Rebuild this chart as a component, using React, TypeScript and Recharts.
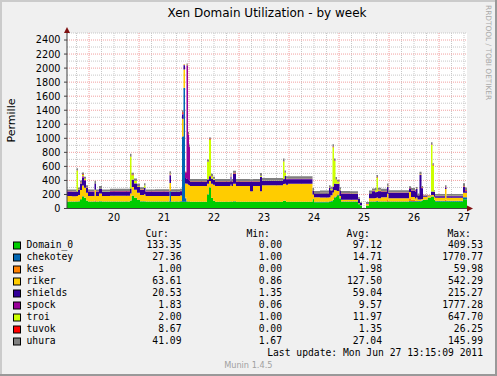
import React from "react";
import { ComposedChart, Area, XAxis, YAxis, CartesianGrid, ReferenceDot } from "recharts";

// time in days (June), sampled at the breakpoints visible in the chart
const times = [
  19.56, 19.66, 19.75, 19.78, 19.82, 19.86, 19.9, 19.94, 19.98, 20.11,
  20.14, 20.2, 20.26, 20.42, 20.82, 20.85, 20.9, 20.96, 21.02, 21.1,
  21.13, 21.32, 21.61, 21.64, 21.82, 21.86, 21.89, 21.92, 21.95, 21.98,
  22.0, 22.02, 22.36, 22.4, 22.44, 22.48, 22.52, 22.83, 22.85, 22.88,
  22.94, 23.22, 23.28, 23.42, 23.46, 23.88, 23.91, 23.94, 23.98, 24.47,
  24.5, 24.62, 24.8, 24.83, 24.87, 24.9, 24.93, 24.96, 25.01, 25.04,
  25.22, 25.38, 25.42, 25.46, 25.54, 25.6, 25.66, 25.72, 25.75, 25.78,
  25.84, 25.96, 25.99, 26.4, 26.44, 26.52, 26.54, 26.57, 26.61, 26.65,
  26.68, 26.77, 26.84, 26.87, 26.9, 26.92, 27.12, 27.15, 27.48, 27.52,
  27.56,
];

const domain0 = [
  95, 95, 95, 100, 130, 170, 150, 110, 95, 95,
  95, 100, 95, 95, 110, 180, 150, 120, 100, 100,
  95, 95, 95, 95, 95, 95, 95, 95, 95, 95,
  95, 94, 200, 300, 150, 110, 94, 100, 94, 100,
  94, 94, 94, 94, 94, 110, 110, 94, 94, 130,
  90, 90, 95, 100, 120, 150, 170, 190, 140, 94,
  94, 60, 40, 0, 40, 94, 94, 94, 100, 94,
  94, 94, 94, 100, 94, 94, 94, 100, 100, 110,
  120, 150, 165, 165, 120, 100, 100, 100, 133, 133,
  133,
];
const chekotey = [
  3, 3, 3, 3, 3, 3, 3, 3, 3, 3,
  3, 3, 3, 3, 3, 3, 3, 3, 3, 3,
  3, 3, 150, 3, 10, 930, 1620, 50, 5, 3,
  3, 2, 2, 2, 2, 2, 2, 2, 2, 2,
  2, 2, 2, 2, 2, 2, 2, 2, 2, 6,
  6, 6, 6, 6, 6, 10, 6, 6, 6, 6,
  6, 3, 2, 0, 2, 6, 6, 6, 6, 6,
  6, 6, 6, 6, 10, 8, 8, 6, 6, 6,
  6, 6, 5, 5, 5, 8, 8, 8, 27, 27,
  27,
];
const kes = [
  1, 1, 1, 1, 2, 5, 3, 1, 1, 20,
  1, 1, 1, 1, 1, 5, 3, 2, 1, 1,
  1, 1, 20, 1, 1, 5, 5, 10, 2, 2,
  2, 1, 1, 1, 2, 1, 1, 1, 1, 1,
  1, 1, 1, 1, 1, 1, 1, 1, 1, 1,
  1, 1, 1, 1, 1, 2, 2, 2, 1, 1,
  1, 1, 0, 0, 1, 1, 1, 1, 1, 1,
  1, 30, 1, 40, 20, 10, 5, 1, 1, 1,
  3, 2, 1, 1, 1, 1, 20, 1, 1, 1,
  1,
];
const riker = [
  80, 75, 80, 90, 130, 150, 140, 110, 80, 150,
  80, 110, 78, 82, 100, 120, 110, 100, 90, 100,
  80, 78, 100, 80, 80, 250, 260, 200, 250, 240,
  230, 225, 150, 90, 200, 225, 225, 240, 225, 250,
  225, 150, 225, 150, 235, 235, 240, 240, 255, 62,
  62, 60, 60, 80, 100, 100, 80, 50, 30, 25,
  25, 10, 5, 0, 20, 45, 45, 50, 50, 45,
  60, 80, 45, 90, 40, 30, 50, 20, 20, 20,
  40, 20, 20, 20, 40, 45, 150, 45, 64, 64,
  64,
];
const shields = [
  60, 62, 62, 70, 90, 110, 100, 70, 60, 90,
  60, 70, 60, 62, 70, 100, 90, 80, 70, 90,
  60, 62, 100, 62, 60, 60, 60, 80, 70, 65,
  65, 62, 60, 60, 70, 70, 62, 110, 62, 140,
  62, 135, 62, 200, 62, 70, 110, 80, 65, 57,
  57, 60, 130, 70, 80, 90, 90, 100, 80, 85,
  80, 60, 30, 0, 10, 70, 100, 80, 80, 100,
  80, 100, 75, 50, 90, 100, 120, 60, 350, 150,
  10, 5, 50, 50, 70, 22, 22, 22, 80, 21,
  21,
];
const spock = [
  2, 2, 2, 2, 5, 20, 10, 3, 2, 2,
  2, 2, 2, 2, 2, 5, 5, 3, 2, 2,
  2, 2, 20, 2, 2, 5, 5, 80, 1620, 650,
  480, 2, 2, 10, 5, 3, 2, 5, 2, 5,
  2, 2, 2, 5, 2, 2, 5, 2, 2, 2,
  2, 2, 2, 2, 5, 5, 5, 5, 2, 2,
  2, 2, 1, 0, 1, 2, 2, 5, 5, 5,
  2, 5, 2, 2, 2, 2, 2, 2, 5, 5,
  2, 2, 2, 2, 2, 2, 2, 2, 2, 2,
  2,
];
const troi = [
  2, 2, 300, 2, 5, 20, 15, 3, 2, 2,
  2, 2, 2, 2, 450, 60, 30, 10, 5, 30,
  2, 2, 10, 2, 2, 5, 5, 5, 5, 3,
  3, 2, 250, 520, 30, 10, 2, 10, 2, 5,
  2, 2, 2, 10, 2, 250, 40, 5, 2, 2,
  2, 2, 5, 20, 560, 320, 60, 30, 10, 2,
  2, 2, 1, 0, 1, 2, 5, 20, 200, 10,
  2, 5, 2, 2, 2, 2, 2, 2, 5, 5,
  2, 2, 660, 370, 10, 2, 2, 2, 2, 2,
  2,
];
const tuvok = [
  1, 2, 1, 1, 5, 10, 5, 2, 1, 3,
  1, 2, 1, 2, 5, 10, 5, 3, 2, 2,
  1, 2, 5, 1, 2, 20, 5, 2, 5, 2,
  2, 2, 3, 10, 5, 3, 2, 5, 2, 5,
  2, 2, 2, 5, 2, 3, 5, 2, 2, 1,
  1, 2, 2, 2, 10, 5, 5, 5, 2, 2,
  3, 2, 1, 0, 1, 3, 3, 5, 5, 5,
  3, 5, 3, 3, 3, 5, 5, 3, 5, 5,
  3, 2, 10, 10, 3, 3, 3, 3, 9, 9,
  9,
];
const uhura = [
  28, 30, 30, 30, 30, 25, 25, 30, 28, 30,
  28, 30, 28, 32, 40, 25, 30, 30, 30, 30,
  28, 30, 30, 30, 30, 30, 0, 0, 15, 30,
  30, 30, 30, 20, 30, 30, 30, 30, 30, 30,
  30, 30, 30, 40, 35, 40, 30, 35, 38, 30,
  30, 32, 30, 30, 35, 30, 30, 20, 30, 32,
  32, 20, 10, 0, 15, 32, 30, 30, 30, 30,
  32, 30, 32, 25, 30, 20, 20, 20, 30, 20,
  10, 5, 30, 20, 10, 25, 25, 25, 41, 41,
  41,
];

const seriesNames = ["Domain_0", "chekotey", "kes", "riker", "shields", "spock", "troi", "tuvok", "uhura"];
const seriesColors = ["#00CC00", "#0066B3", "#FF8000", "#FFCC00", "#330099", "#990099", "#CCFF00", "#FF0000", "#808080"];
const seriesValues = [domain0, chekotey, kes, riker, shields, spock, troi, tuvok, uhura];

const curValues = [133.35, 27.36, 1.0, 63.61, 20.53, 1.83, 2.0, 8.67, 41.09];
const minValues = [0.0, 1.0, 0.0, 0.86, 1.35, 0.06, 1.0, 0.0, 1.67];
const avgValues = [97.12, 14.71, 1.98, 127.5, 59.04, 9.57, 11.97, 1.35, 27.04];
const maxValues = [409.53, 1770.77, 59.98, 542.29, 215.27, 1777.28, 647.7, 26.25, 145.99];

const dayTicks = [20.5, 21.5, 22.5, 23.5, 24.5, 25.5, 26.5, 27.5];
const dayLabels = ["20", "21", "22", "23", "24", "25", "26", "27"];
const yTicks = [0, 200, 400, 600, 800, 1000, 1200, 1400, 1600, 1800, 2000, 2200, 2400];
const minorY = [100, 300, 500, 700, 900, 1100, 1300, 1500, 1700, 1900, 2100, 2300, 2500];
const majorY = [200, 400, 600, 800, 1000, 1200, 1400, 1600, 1800, 2000, 2200, 2400];
const majorX = [20, 21, 22, 23, 24, 25, 26, 27];
const minorX = [
  19.75, 20.25, 20.5, 20.75, 21.25, 21.5, 21.75, 22.25, 22.5, 22.75,
  23.25, 23.5, 23.75, 24.25, 24.5, 24.75, 25.25, 25.5, 25.75, 26.25,
  26.5, 26.75, 27.25, 27.5,
];

const chartData = times.map((t, i) => {
  const row: Record<string, number> = { t };
  seriesNames.forEach((n, j) => {
    row[n] = seriesValues[j][i];
  });
  return row;
});

const SANS = "'DejaVu Sans', sans-serif";
const MONO = "'DejaVu Sans Mono', monospace";
const ARROW = "#7F1010";
const AXIS = "#404040";

const UpArrow = (p: any) => (
  <polygon points={`${p.cx - 3},${p.cy} ${p.cx + 3},${p.cy} ${p.cx},${p.cy - 6}`} fill={ARROW} />
);
const RightArrow = (p: any) => (
  <polygon points={`${p.cx},${p.cy - 3} ${p.cx},${p.cy + 3} ${p.cx + 6},${p.cy}`} fill={ARROW} />
);

export default function App() {
  const rowY = (i: number) => 245 + 12 * i;
  return (
    <div style={{ position: "absolute", left: 0, top: 0, width: 497, height: 376, background: "#F0F0F0", overflow: "hidden" }}>
      <div style={{ position: "absolute", left: 0, top: 0 }}>
        <ComposedChart
          width={497}
          height={376}
          data={chartData}
          margin={{ top: 33, right: 30, left: 27, bottom: 147.5 }}
        >
          <CartesianGrid
            fill="#FFFFFF"
            stroke="#C8C8C8"
            strokeDasharray="1 1"
            horizontalValues={minorY}
            verticalValues={minorX}
          />
          <CartesianGrid
            stroke="#F2A0A0"
            strokeDasharray="1 1"
            horizontalValues={majorY}
            verticalValues={majorX}
          />
          <XAxis
            type="number"
            dataKey="t"
            domain={[19.56, 27.56]}
            ticks={dayTicks}
            interval={0}
            allowDataOverflow
            tickFormatter={(_v: number, i: number) => dayLabels[i]}
            tickLine={false}
            tickSize={0}
            tickMargin={5.5}
            axisLine={{ stroke: AXIS }}
            tick={{ fontSize: 9.7, fill: "#000", fontFamily: SANS }}
            height={20}
          />
          <YAxis
            type="number"
            domain={[0, 2500]}
            ticks={yTicks}
            interval={0}
            allowDataOverflow
            width={40}
            tickSize={3}
            tickMargin={3.5}
            axisLine={{ stroke: AXIS }}
            tickLine={{ stroke: AXIS }}
            tick={{ fontSize: 9.7, fill: "#000", fontFamily: SANS }}
          />
          {seriesNames.map((n, j) => (
            <Area
              key={n}
              type="stepAfter"
              dataKey={n}
              stackId="xen"
              stroke="none"
              fill={seriesColors[j]}
              fillOpacity={1}
              isAnimationActive={false}
              dot={false}
              activeDot={false}
            />
          ))}
          <ReferenceDot x={19.56} y={2500} r={0} ifOverflow="visible" shape={UpArrow} />
          <ReferenceDot x={27.56} y={0} r={0} ifOverflow="visible" shape={RightArrow} />
        </ComposedChart>
      </div>
      <svg width={497} height={376} style={{ position: "absolute", left: 0, top: 0, pointerEvents: "none" }}>
        <rect x={0} y={0} width={497} height={2} fill="#CBCBCB" />
        <rect x={0} y={0} width={2} height={376} fill="#CBCBCB" />
        <rect x={495} y={0} width={2} height={376} fill="#999999" />
        <rect x={0} y={374} width={497} height={2} fill="#999999" />
        <text x={267} y={17.3} textAnchor="middle" fontFamily={SANS} fontSize={12} fill="#000">
          Xen Domain Utilization - by week
        </text>
        <text
          x={0}
          y={0}
          transform="translate(15,120.5) rotate(-90)"
          textAnchor="middle"
          fontFamily={SANS}
          fontSize={11}
          fill="#000"
        >
          Permille
        </text>
        <text
          x={0}
          y={0}
          transform="translate(485.5,5) rotate(90)"
          fontFamily={SANS}
          fontSize={7.4}
          fill="#A8A8A8"
        >
          RRDTOOL / TOBI OETIKER
        </text>
        <g fontFamily={MONO} fontSize={9.7} fill="#000">
          <text x={145.5} y={236.8}>Cur:</text>
          <text x={246.5} y={236.8}>Min:</text>
          <text x={346.5} y={236.8}>Avg:</text>
          <text x={447.5} y={236.8}>Max:</text>
          {seriesNames.map((n, i) => (
            <g key={n}>
              <rect x={13.5} y={rowY(i) - 3} width={7} height={7} fill={seriesColors[i]} stroke="#000" strokeWidth={1} />
              <text x={26.5} y={rowY(i) + 3.4}>{n}</text>
              <text x={181.5} y={rowY(i) + 3.4} textAnchor="end">{curValues[i].toFixed(2)}</text>
              <text x={282} y={rowY(i) + 3.4} textAnchor="end">{minValues[i].toFixed(2)}</text>
              <text x={382} y={rowY(i) + 3.4} textAnchor="end">{avgValues[i].toFixed(2)}</text>
              <text x={483} y={rowY(i) + 3.4} textAnchor="end">{maxValues[i].toFixed(2)}</text>
            </g>
          ))}
          <text x={483} y={356} textAnchor="end">Last update: Mon Jun 27 13:15:09 2011</text>
        </g>
        <text x={248.3} y={368.3} textAnchor="middle" fontFamily={SANS} fontSize={8.2} fill="#A0A0A0">
          Munin 1.4.5
        </text>
      </svg>
    </div>
  );
}
